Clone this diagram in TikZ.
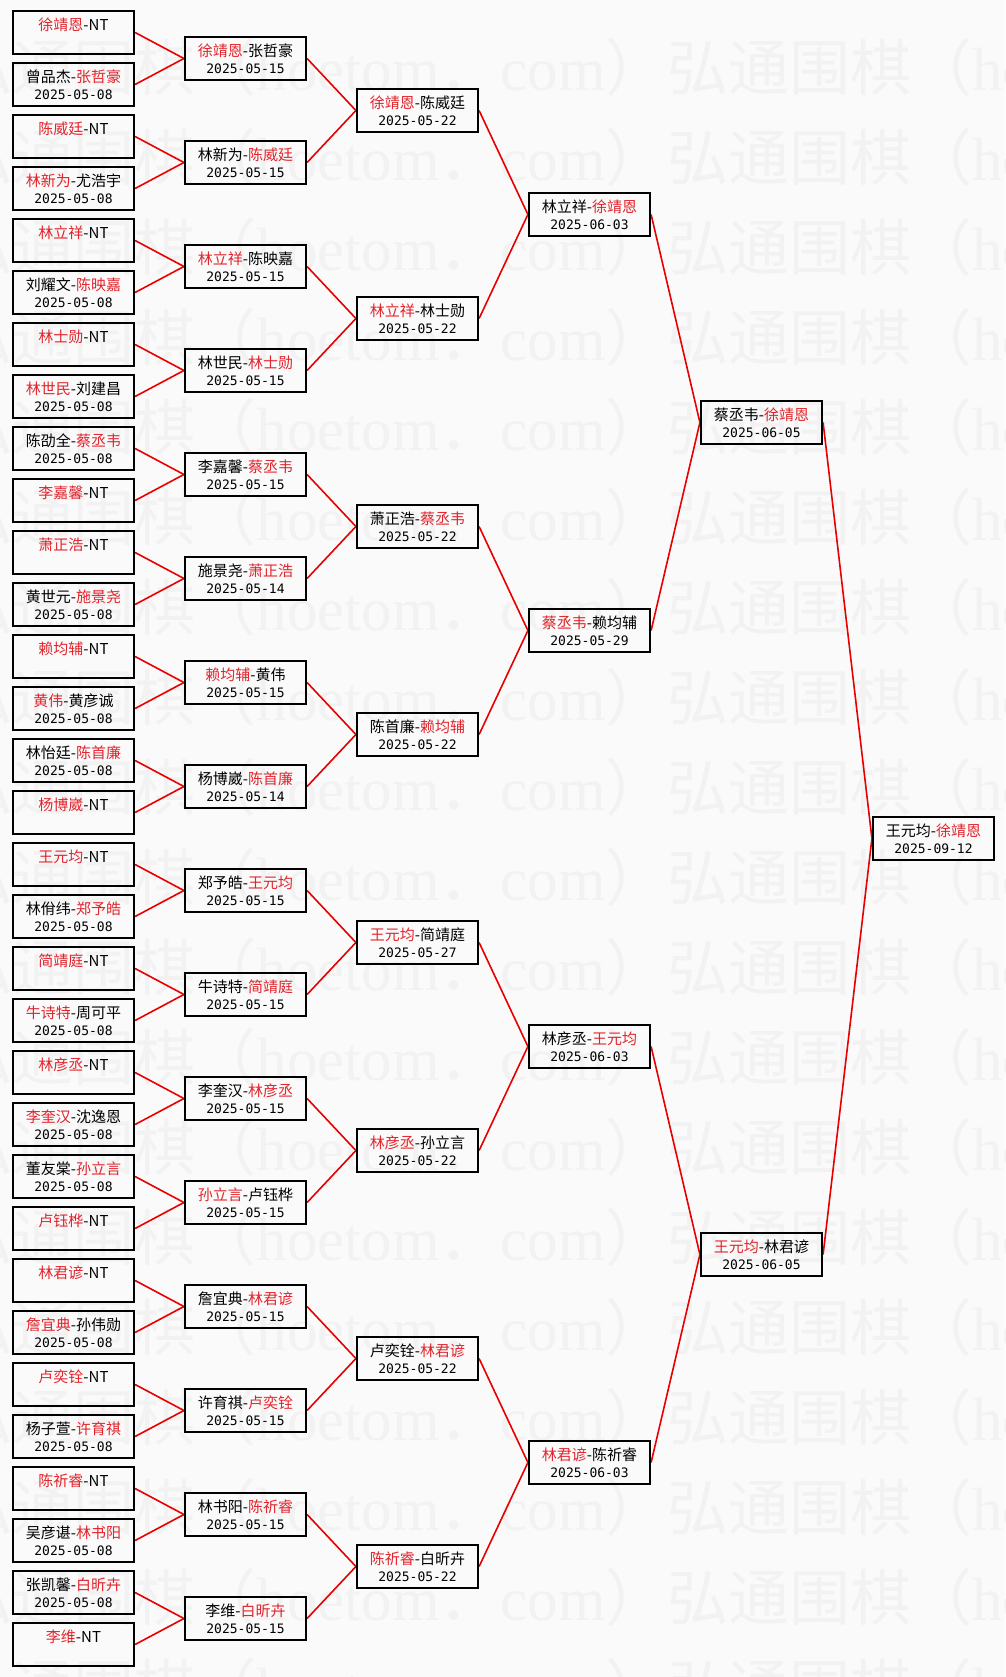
\documentclass[tikz,border=0pt]{standalone}
\usepackage{fontspec}
\setmainfont{Noto Sans CJK SC}
\newfontfamily\datefont{DejaVu Sans Mono}
\newfontfamily\wmlatin{Liberation Serif}
\usetikzlibrary{backgrounds}

\definecolor{winred}{RGB}{226,36,44}
\definecolor{wirered}{RGB}{232,0,0}
\definecolor{paper}{RGB}{250,250,250}
\definecolor{wmgray}{RGB}{242,242,242}

\newcommand{\win}[1]{\textcolor{winred}{#1}}
\newcommand{\datetext}[1]{{\datefont\fontsize{13}{17}\selectfont #1\vphantom{0}}}
\newcommand{\wmline}{弘通围棋（{\wmlatin hoetom}．{\wmlatin com}）}

\tikzset{
    match/.style={draw=black, line width=2.2pt, minimum width=121pt, minimum height=43pt,
        inner sep=0pt, align=center, font=\fontsize{15}{17}\selectfont},
    wire/.style={draw=wirered, line width=1.6pt},
    wmtext/.style={inner sep=0pt, text=wmgray, font=\fontsize{61}{61}\selectfont}
}

\begin{document}
\begin{tikzpicture}[x=1pt,y=-1pt]
        % Define dimensions
        \def\topy{32.5}
        \def\spacing{52}
        \useasboundingbox (0,0) rectangle (1005,1677);
        % Paper and watermark
        \begin{scope}[on background layer]
            \clip (0,0) rectangle (1005,1677);
            \fill[paper] (0,0) rectangle (1005,1677);
            \foreach \k in {0,1,...,18}{
                \node[wmtext, anchor=east] (wm\k a) at (667,{67+90*\k}) {\wmline};
                \node[wmtext, anchor=west] (wm\k b) at (667,{67+90*\k}) {\wmline};
            }
        \end{scope}
        % First round
        \foreach \names/\when [count=\i] in {
            {\win{徐靖恩}-NT}/{}, {曾品杰-\win{张哲豪}}/2025-05-08,
            {\win{陈威廷}-NT}/{}, {\win{林新为}-尤浩宇}/2025-05-08,
            {\win{林立祥}-NT}/{}, {刘耀文-\win{陈映嘉}}/2025-05-08,
            {\win{林士勋}-NT}/{}, {\win{林世民}-刘建昌}/2025-05-08,
            {陈劭全-\win{蔡丞韦}}/2025-05-08, {\win{李嘉馨}-NT}/{},
            {\win{萧正浩}-NT}/{}, {黄世元-\win{施景尧}}/2025-05-08,
            {\win{赖均辅}-NT}/{}, {\win{黄伟}-黄彦诚}/2025-05-08,
            {林怡廷-\win{陈首廉}}/2025-05-08, {\win{杨博崴}-NT}/{},
            {\win{王元均}-NT}/{}, {林佾纬-\win{郑予皓}}/2025-05-08,
            {\win{简靖庭}-NT}/{}, {\win{牛诗特}-周可平}/2025-05-08,
            {\win{林彦丞}-NT}/{}, {\win{李奎汉}-沈逸恩}/2025-05-08,
            {董友棠-\win{孙立言}}/2025-05-08, {\win{卢钰桦}-NT}/{},
            {\win{林君谚}-NT}/{}, {\win{詹宜典}-孙伟勋}/2025-05-08,
            {\win{卢奕铨}-NT}/{}, {杨子萱-\win{许育祺}}/2025-05-08,
            {\win{陈祈睿}-NT}/{}, {吴彦谌-\win{林书阳}}/2025-05-08,
            {张凯馨-\win{白昕卉}}/2025-05-08, {\win{李维}-NT}/{}}
            \node[match] (c1n\i) at (73.5,{\topy+\spacing*(\i-1)}) {\names\\\datetext{\when}};
        % Second round
        \foreach \names/\when [count=\i] in {
            {\win{徐靖恩}-张哲豪}/2025-05-15, {林新为-\win{陈威廷}}/2025-05-15,
            {\win{林立祥}-陈映嘉}/2025-05-15, {林世民-\win{林士勋}}/2025-05-15,
            {李嘉馨-\win{蔡丞韦}}/2025-05-15, {施景尧-\win{萧正浩}}/2025-05-14,
            {\win{赖均辅}-黄伟}/2025-05-15, {杨博崴-\win{陈首廉}}/2025-05-14,
            {郑予皓-\win{王元均}}/2025-05-15, {牛诗特-\win{简靖庭}}/2025-05-15,
            {李奎汉-\win{林彦丞}}/2025-05-15, {\win{孙立言}-卢钰桦}/2025-05-15,
            {詹宜典-\win{林君谚}}/2025-05-15, {许育祺-\win{卢奕铨}}/2025-05-15,
            {林书阳-\win{陈祈睿}}/2025-05-15, {李维-\win{白昕卉}}/2025-05-15}
            \node[match] (c2n\i) at (245.5,{\topy+\spacing*(2*\i-1.5)}) {\names\\\datetext{\when}};
        % Third round
        \foreach \names/\when [count=\i] in {
            {\win{徐靖恩}-陈威廷}/2025-05-22, {\win{林立祥}-林士勋}/2025-05-22,
            {萧正浩-\win{蔡丞韦}}/2025-05-22, {陈首廉-\win{赖均辅}}/2025-05-22,
            {\win{王元均}-简靖庭}/2025-05-27, {\win{林彦丞}-孙立言}/2025-05-22,
            {卢奕铨-\win{林君谚}}/2025-05-22, {\win{陈祈睿}-白昕卉}/2025-05-22}
            \node[match] (c3n\i) at (417.5,{\topy+\spacing*(4*\i-2.5)}) {\names\\\datetext{\when}};
        % Quarter finals
        \foreach \names/\when [count=\i] in {
            {林立祥-\win{徐靖恩}}/2025-06-03, {\win{蔡丞韦}-赖均辅}/2025-05-29,
            {林彦丞-\win{王元均}}/2025-06-03, {\win{林君谚}-陈祈睿}/2025-06-03}
            \node[match] (c4n\i) at (589.5,{\topy+\spacing*(8*\i-4.5)}) {\names\\\datetext{\when}};
        % Semi finals
        \foreach \names/\when [count=\i] in {
            {蔡丞韦-\win{徐靖恩}}/2025-06-05, {\win{王元均}-林君谚}/2025-06-05}
            \node[match] (c5n\i) at (761.5,{\topy+\spacing*(16*\i-8.5)}) {\names\\\datetext{\when}};
        % Final
        \node[match] (c6n1) at (933.5,{\topy+\spacing*15.5}) {王元均-\win{徐靖恩}\\\datetext{2025-09-12}};
        % Connect every board to the next round
        \begin{scope}[on background layer]
            \foreach \c/\n in {1/32,2/16,3/8,4/4,5/2}{
                \pgfmathtruncatemacro\nxt{\c+1}
                \foreach \i in {1,...,\n}{
                    \pgfmathtruncatemacro\j{(\i+1)/2}
                    \draw[wire] (c\c n\i.east) -- (c\nxt n\j.west);
                }
            }
        \end{scope}
    \end{tikzpicture}
\end{document}
